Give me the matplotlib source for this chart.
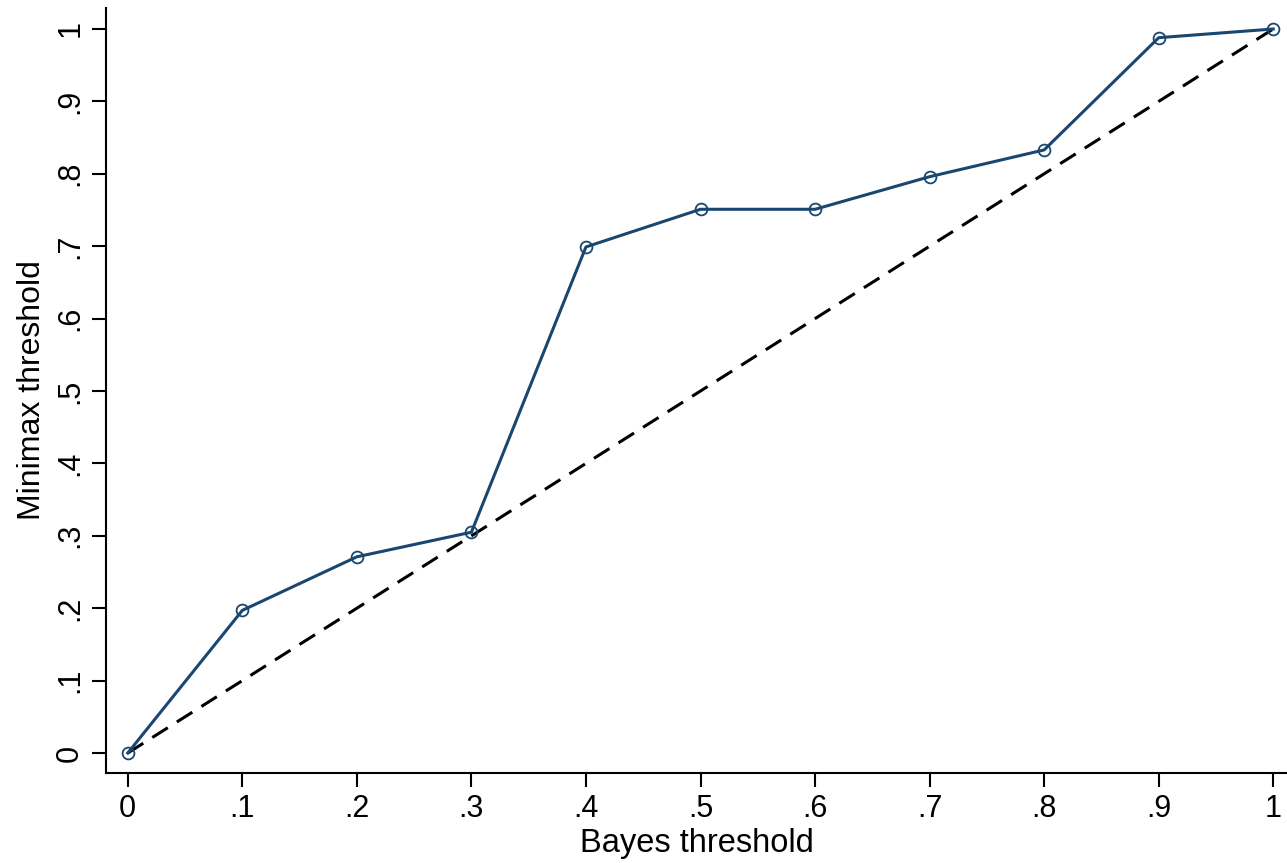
import numpy as np
import matplotlib.pyplot as plt

plt.rcParams['font.family'] = ['Liberation Sans', 'DejaVu Sans']

bayes = [0, .1, .2, .3, .4, .5, .6, .7, .8, .9, 1]
minimax = [0, .197, .271, .305, .699, .751, .751, .796, .833, .988, 1]
tick_vals = [0, .1, .2, .3, .4, .5, .6, .7, .8, .9, 1]
tick_labels = ['0', '.1', '.2', '.3', '.4', '.5', '.6', '.7', '.8', '.9', '1']

fig = plt.figure(figsize=(12.87, 8.63), dpi=100)
ax = fig.add_axes([106 / 1287, 90 / 863, 1181 / 1287, 765 / 863])

ax.plot(bayes, minimax, color='#1a476f', lw=2.2, marker='o', ms=8.5,
        mfc='none', mec='#1a476f', mew=1.3, zorder=3)
ax.plot([0, 1], [0, 1], color='black', lw=2.2, ls=(0, (6, 3.5)), zorder=2)

ax.set_xlim(-0.019, 1.012)
ax.set_ylim(-0.0276, 1.029)
ax.set_xticks(tick_vals)
ax.set_xticklabels(tick_labels)
ax.set_yticks(tick_vals)
ax.set_yticklabels(tick_labels, rotation=90, va='center')
ax.tick_params(labelsize=22, length=10, width=1.5, pad=5)
ax.spines['top'].set_visible(False)
ax.spines['right'].set_visible(False)
ax.spines['left'].set_linewidth(1.5)
ax.spines['bottom'].set_linewidth(1.5)
ax.set_xlabel('Bayes threshold', fontsize=23.5, labelpad=3)
ax.set_ylabel('Minimax threshold', fontsize=23, labelpad=6)

fig.savefig('out.png', dpi=100)
